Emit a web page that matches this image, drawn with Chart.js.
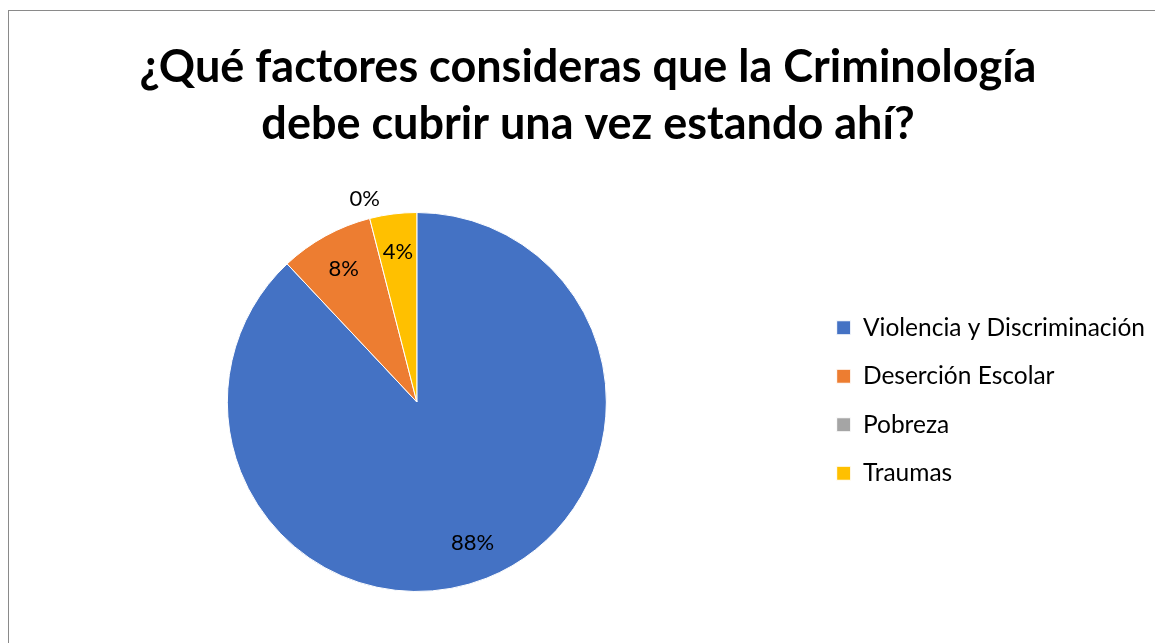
<!DOCTYPE html>
<html>
<head>
<meta charset="utf-8">
<script src="https://cdn.jsdelivr.net/npm/chart.js@4"></script>
<style>
html,body{margin:0;padding:0;background:#fff;overflow:hidden;width:1155px;height:643px;}
#wrap{position:absolute;left:8px;top:10px;width:1158px;height:640px;border-left:1px solid #8a8a8a;border-top:1px solid #8a8a8a;}
</style>
</head>
<body>
<div id="wrap"><canvas id="c"></canvas></div>
<script>
const titleLines = ["¿Qué factores consideras que la Criminología", "debe cubrir una vez estando ahí?"];
const categories = ["Violencia y Discriminación", "Deserción Escolar", "Pobreza", "Traumas"];
const values = [22, 2, 0, 1];
const colors = ["#4472C4", "#ED7D31", "#A5A5A5", "#FFC000"];

const labelPlugin = {
  id: 'pctLabels',
  afterDatasetsDraw(chart) {
    const ctx = chart.ctx;
    const meta = chart.getDatasetMeta(0);
    const data = chart.data.datasets[0].data;
    const total = data.reduce((a, b) => a + b, 0);
    ctx.save();
    ctx.font = '22px Lato';
    ctx.fillStyle = '#000';
    ctx.textAlign = 'center';
    ctx.textBaseline = 'middle';
    meta.data.forEach((arc, i) => {
      const p = arc.getProps(['x', 'y', 'startAngle', 'endAngle', 'outerRadius'], true);
      const mid = (p.startAngle + p.endAngle) / 2;
      const r = data[i] > 0 ? p.outerRadius * 0.8 : p.outerRadius + 20;
      const txt = Math.round(data[i] / total * 100) + '%';
      ctx.fillText(txt, p.x + Math.cos(mid) * r, p.y + Math.sin(mid) * r);
    });
    ctx.restore();
  }
};

new Chart(document.getElementById('c'), {
  type: 'pie',
  data: {
    labels: categories,
    datasets: [{
      data: values,
      backgroundColor: colors,
      borderColor: '#ffffff',
      borderWidth: 1
    }]
  },
  options: {
    responsive: true,
    maintainAspectRatio: false,
    animation: false,
    layout: { padding: { top: 0, bottom: 59, left: 12, right: 12 } },
    plugins: {
      title: {
        display: true,
        text: titleLines,
        color: '#000',
        font: { family: 'Lato', size: 45, weight: 'bold', lineHeight: 1.2667 },
        padding: { top: 28, bottom: 59 }
      },
      legend: {
        position: 'right',
        title: { display: true, text: ' ', font: { size: 10, lineHeight: 1 }, padding: { top: 188, bottom: 0 } },
        labels: {
          color: '#000',
          font: { family: 'Lato', size: 24.5 },
          boxWidth: 14,
          boxHeight: 14,
          padding: 24
        }
      },
      tooltip: { enabled: false }
    }
  },
  plugins: [labelPlugin]
});
</script>
</body>
</html>
